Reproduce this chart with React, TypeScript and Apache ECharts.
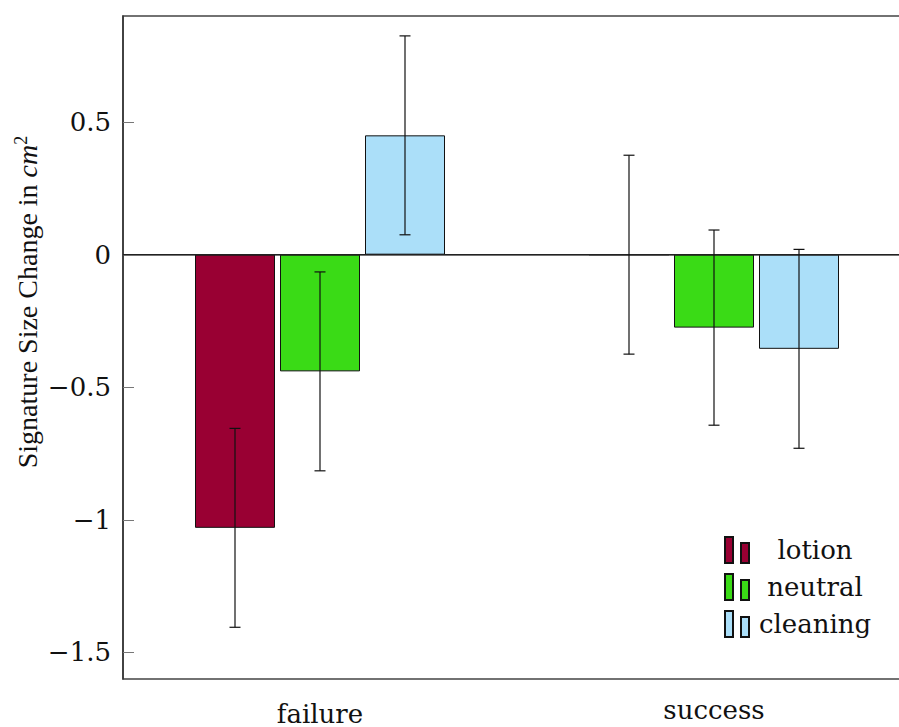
import React, { useEffect, useRef } from "react";
import * as echarts from "echarts";

const categories = ["failure", "success"];
const seriesNames = ["lotion", "neutral", "cleaning"];
const lotionValues = [-1.03, 0.0];
const neutralValues = [-0.44, -0.275];
const cleaningValues = [0.45, -0.355];
const lotionErrors = [0.375, 0.375];
const neutralErrors = [0.375, 0.368];
const cleaningErrors = [0.375, 0.375];
const yTickValues = [-1.5, -1, -0.5, 0, 0.5];

const colors = ["#990033", "#3ADB16", "#ABDFF9"];
const FONT = "DejaVu Serif";
const LABEL_FONT = "Liberation Serif";
const BAR_W = 80;
const BAR_GAP_PX = 5;

export default function App() {
  const ref = useRef<HTMLDivElement>(null);
  useEffect(() => {
    if (!ref.current) return;
    const chart = echarts.init(ref.current, null, { renderer: "svg" });
    const values = [lotionValues, neutralValues, cleaningValues];
    const errors = [lotionErrors, neutralErrors, cleaningErrors];
    const errData: number[][] = [];
    values.forEach((arr, s) =>
      arr.forEach((v, c) => errData.push([c, v, errors[s][c], s]))
    );
    const fmtNum = (v: number) => String(v).replace("-", "\u2212");
    const barSeries = seriesNames.map((name, s) => ({
      name,
      type: "bar",
      data: values[s],
      barWidth: BAR_W,
      barGap: (BAR_GAP_PX / BAR_W) * 100 + "%",
      itemStyle: { color: colors[s], borderColor: "#111", borderWidth: 1 },
      z: 2,
      ...(s === 0
        ? {
            markLine: {
              silent: true,
              symbol: ["none", "none"],
              label: { show: false },
              lineStyle: { color: "#222", width: 1.2, type: "solid" },
              data: [{ yAxis: 0 }],
              z: 3,
            },
          }
        : {}),
    }));
    chart.setOption({
      animation: false,
      grid: {
        left: 123,
        top: 16,
        height: 663,
        width: 788,
        show: true,
        borderColor: "#444",
        borderWidth: 1.5,
        containLabel: false,
        outerBoundsMode: "none",
      },
      xAxis: {
        type: "category",
        data: categories,
        axisLine: { lineStyle: { color: "#444", width: 1.5 } },
        axisTick: { alignWithLabel: true, length: 10, lineStyle: { color: "#777" } },
        axisLabel: {
          color: "#111",
          fontFamily: FONT,
          fontSize: 26,
          margin: 21,
          formatter: (v: string) =>
            /[bdfhklt]/.test(v) ? `{asc|${v}}` : `{x|${v}}`,
          rich: {
            asc: { fontFamily: FONT, fontSize: 26, lineHeight: 20, color: "#111", padding: [7, 0, 0, 0] },
            x: { fontFamily: FONT, fontSize: 26, lineHeight: 20, color: "#111" },
          },
        },
      },
      yAxis: {
        type: "value",
        min: -1.6,
        max: 0.9,
        axisLine: { show: true, lineStyle: { color: "#333", width: 1.5 } },
        splitLine: { show: false },
        axisTick: {
          show: true,
          inside: true,
          length: 11,
          lineStyle: { color: "#777" },
          customValues: yTickValues,
        },
        axisLabel: {
          color: "#111",
          fontFamily: FONT,
          fontSize: 26,
          margin: 12,
          customValues: yTickValues,
          formatter: (v: number) => fmtNum(v),
        },
      },
      legend: {
        data: seriesNames,
        orient: "vertical",
        left: 724,
        top: 536,
        padding: 0,
        itemWidth: 24,
        itemHeight: 26,
        itemGap: 9,
        icon: "path://M0,0H8V26H0Z M16,6H24V26H16Z",
        formatter: (n: string) => `{c|${n}}`,
        textStyle: {
          fontFamily: FONT,
          fontSize: 26,
          color: "#111",
          rich: {
            c: { fontFamily: FONT, fontSize: 26, color: "#111", width: 122, align: "center" },
          },
        },
      },
      graphic: [
        {
          type: "text",
          x: 27,
          y: 302,
          rotation: Math.PI / 2,
          style: {
            text: "Signature Size Change in {i|cm}{s|2}",
            fontFamily: LABEL_FONT,
            fontSize: 28,
            fill: "#111",
            align: "center",
            verticalAlign: "middle",
            rich: {
              i: { fontFamily: LABEL_FONT, fontSize: 28, fontStyle: "italic", fill: "#111" },
              s: { fontFamily: LABEL_FONT, fontSize: 18, fill: "#111", verticalAlign: "top", padding: [0, 0, 12, 0] },
            },
          },
        },
      ],
      series: [
        ...barSeries,
        {
          type: "custom",
          name: "errors",
          z: 5,
          data: errData,
          renderItem: (params: any, api: any) => {
            const c = api.value(0);
            const v = api.value(1);
            const e = api.value(2);
            const s = api.value(3);
            const dx = (s - 1) * (BAR_W + BAR_GAP_PX);
            const top = api.coord([c, v + e]);
            const bot = api.coord([c, v - e]);
            const x = top[0] + dx;
            const cap = 5.5;
            const st = { stroke: "#111", lineWidth: 1.2 };
            return {
              type: "group",
              children: [
                { type: "line", shape: { x1: x, y1: top[1], x2: x, y2: bot[1] }, style: st },
                { type: "line", shape: { x1: x - cap, y1: top[1], x2: x + cap, y2: top[1] }, style: st },
                { type: "line", shape: { x1: x - cap, y1: bot[1], x2: x + cap, y2: bot[1] }, style: st },
              ],
            };
          },
        },
      ],
    });
    return () => chart.dispose();
  }, []);
  return <div ref={ref} style={{ width: 899, height: 727, position: "absolute", left: 0, top: 0 }} />;
}
